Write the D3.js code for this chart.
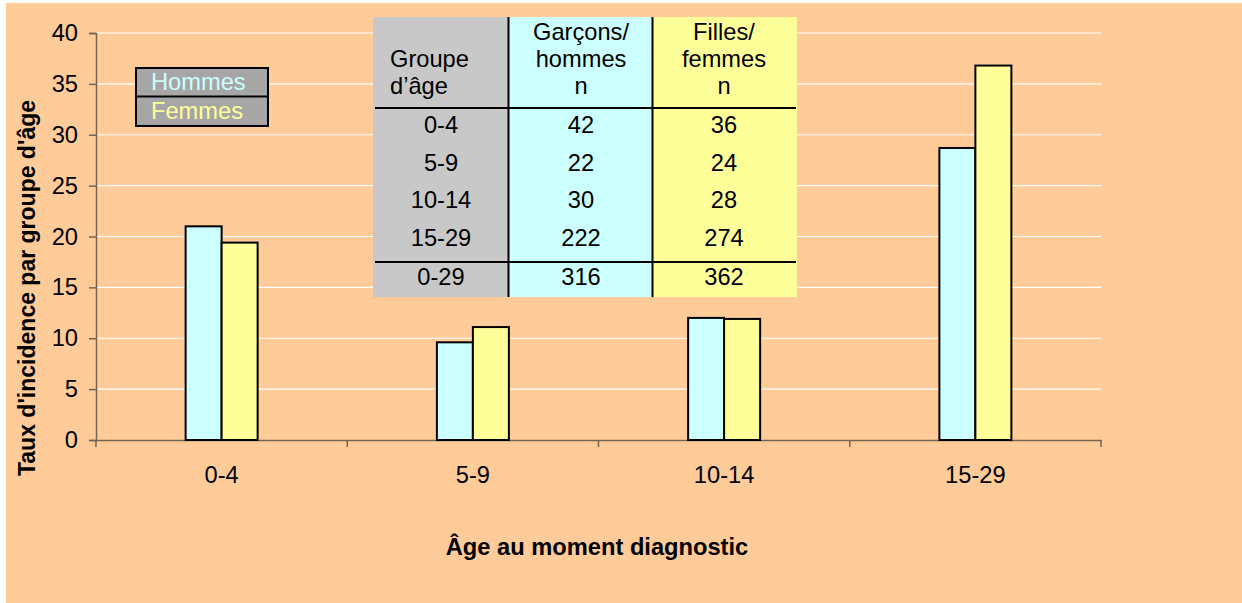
<!DOCTYPE html>
<html>
<head>
<meta charset="utf-8">
<script src="https://cdn.jsdelivr.net/npm/d3@7"></script>
<style>
  body { margin: 0; background: #fff; }
  svg text { font-family: Arial, "Liberation Sans", sans-serif; }
</style>
</head>
<body>
<div id="chart"></div>
<script>
const width = 1242;
const height = 603;

var color_bg = '#FFCC99'
var color_h = '#CCFFFF'
var color_f = '#FFFF99'
var color_axis = '#74654f'

// data
const ageGroups = ['0-4', '5-9', '10-14', '15-29'];
const hommes = [21.0, 9.6, 12.0, 28.7];
const femmes = [19.4, 11.1, 11.9, 36.8];
const series = ['Hommes', 'Femmes'];
const yTicks = [0, 5, 10, 15, 20, 25, 30, 35, 40];

// table data
const tableHeader = [['Groupe', 'd\u2019âge'], ['Garçons/', 'hommes', 'n'], ['Filles/', 'femmes', 'n']];
const tableGroups = ['0-4', '5-9', '10-14', '15-29'];
const tableGarcons = [42, 22, 30, 222];
const tableFilles = [36, 24, 28, 274];
const tableTotal = ['0-29', 316, 362];

const sx = 1.03; // text is a touch wider than tall in the original

var svg = d3.select("div#chart")
  .append("svg")
  .attr("width", width)
  .attr("height", height);

svg.append("rect")
  .attr("x", 6).attr("y", 3)
  .attr("width", width - 6).attr("height", height - 3)
  .attr("fill", color_bg);

const plot = {left: 96, right: 1101, top: 33, bottom: 440};

const x = d3.scaleBand()
  .domain(ageGroups)
  .range([plot.left, plot.right]);

const xs = d3.scaleBand()
  .domain(series)
  .range([0, 72]);

const y = d3.scaleLinear()
  .domain([0, 40])
  .range([plot.bottom, plot.top]);

function label(g, tx, ty, txt, opts) {
  opts = opts || {};
  return g.append("text")
    .attr("transform", "translate(" + tx + "," + ty + ") scale(" + sx + ",1)")
    .attr("text-anchor", opts.anchor || "middle")
    .attr("dy", "0.35em")
    .attr("font-size", opts.size || 23)
    .attr("font-weight", opts.weight || "normal")
    .attr("fill", opts.fill || "#000")
    .text(txt);
}

// gridlines
svg.append("g")
  .selectAll("line")
  .data(yTicks.filter(d => d > 0))
  .enter()
  .append("line")
  .attr("x1", plot.left).attr("x2", plot.right)
  .attr("y1", d => y(d)).attr("y2", d => y(d))
  .attr("stroke", "#fff")
  .attr("stroke-width", 1.2);

// y axis
const yAxis = svg.append("g")
  .attr("transform", "translate(" + plot.left + ",0)")
  .call(d3.axisLeft(y).tickValues(yTicks).tickSize(7).tickFormat(""));
yAxis.select(".domain").attr("stroke", color_axis).attr("stroke-width", 1.5);
yAxis.selectAll(".tick line").attr("stroke", color_axis).attr("stroke-width", 1.5);
yTicks.forEach(function(t) {
  label(svg, 78, y(t), t, {anchor: "end"});
});

// x axis
const xAxis = svg.append("g")
  .attr("transform", "translate(0," + plot.bottom + ")")
  .call(d3.axisBottom(x).tickSize(0).tickFormat(""));
xAxis.select(".domain").attr("stroke", color_axis).attr("stroke-width", 1.5);
svg.append("g").selectAll("line")
  .data(d3.range(ageGroups.length + 1))
  .enter()
  .append("line")
  .attr("x1", i => plot.left + i * x.bandwidth())
  .attr("x2", i => plot.left + i * x.bandwidth())
  .attr("y1", plot.bottom).attr("y2", plot.bottom + 7)
  .attr("stroke", color_axis).attr("stroke-width", 1.5);
ageGroups.forEach(function(a) {
  label(svg, x(a) + x.bandwidth() / 2, 475, a);
});

// bars
const bars = svg.append("g");
ageGroups.forEach(function(a, i) {
  const x0 = x(a) + x.bandwidth() / 2 - xs.range()[1] / 2;
  [hommes[i], femmes[i]].forEach(function(v, j) {
    bars.append("rect")
      .attr("x", x0 + xs(series[j]))
      .attr("y", y(v))
      .attr("width", xs.bandwidth())
      .attr("height", y(0) - y(v))
      .attr("fill", j === 0 ? color_h : color_f)
      .attr("stroke", "#000")
      .attr("stroke-width", 2);
  });
});

// table
const tbl = svg.append("g");
const colX = [373, 508.5, 652.5, 797];
const colFill = ['#C8C8C8', color_h, color_f];
const tTop = 17, tBottom = 297;
colFill.forEach(function(c, i) {
  tbl.append("rect")
    .attr("x", colX[i]).attr("y", tTop)
    .attr("width", colX[i + 1] - colX[i]).attr("height", tBottom - tTop)
    .attr("fill", c);
});
[colX[1], colX[2]].forEach(function(cx) {
  tbl.append("line")
    .attr("x1", cx).attr("x2", cx).attr("y1", tTop).attr("y2", tBottom)
    .attr("stroke", "#000").attr("stroke-width", 2);
});
[108, 262].forEach(function(ly) {
  tbl.append("line")
    .attr("x1", 375).attr("x2", 796).attr("y1", ly).attr("y2", ly)
    .attr("stroke", "#000").attr("stroke-width", 2);
});
const colCenter = [441, 581, 724];
tableHeader[0].forEach(function(t, k) {
  label(tbl, 390, 59 + k * 27, t, {anchor: "start"});
});
[1, 2].forEach(function(c) {
  tableHeader[c].forEach(function(t, k) {
    label(tbl, colCenter[c], 32 + k * 27, t);
  });
});
tableGroups.forEach(function(g, r) {
  const ry = 125 + r * 37.6;
  label(tbl, colCenter[0], ry, g);
  label(tbl, colCenter[1], ry, tableGarcons[r]);
  label(tbl, colCenter[2], ry, tableFilles[r]);
});
tableTotal.forEach(function(t, c) {
  label(tbl, colCenter[c], 277, t);
});

// legend
const leg = svg.append("g");
leg.append("rect")
  .attr("x", 136).attr("y", 68).attr("width", 132).attr("height", 58)
  .attr("fill", "#A6A6A6").attr("stroke", "#000").attr("stroke-width", 2);
leg.append("line")
  .attr("x1", 136).attr("x2", 268).attr("y1", 96.5).attr("y2", 96.5)
  .attr("stroke", "#000").attr("stroke-width", 2);
series.forEach(function(s, i) {
  label(leg, 151, 82 + i * 29, s, {anchor: "start", fill: i === 0 ? color_h : color_f});
});

// axis titles
svg.append("text")
  .attr("transform", "translate(27,288) rotate(-90)")
  .attr("text-anchor", "middle")
  .attr("dy", "0.35em")
  .attr("font-size", 23)
  .attr("font-weight", "bold")
  .text("Taux d'incidence par groupe d'âge");

label(svg, 597, 547, "Âge au moment diagnostic", {weight: "bold"});
</script>
</body>
</html>
